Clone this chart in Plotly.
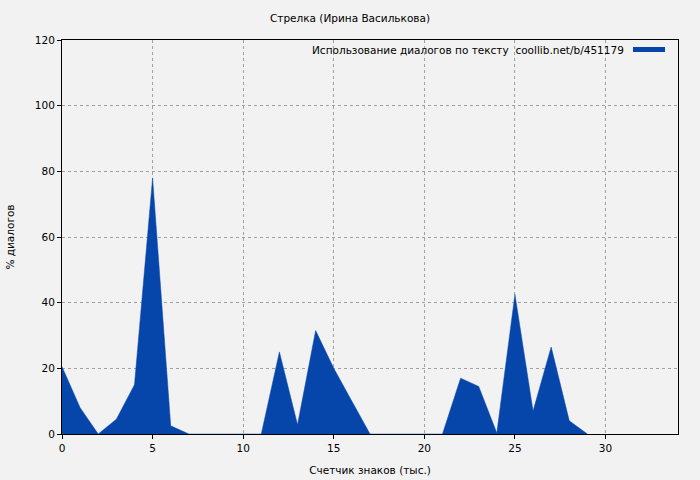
import plotly.graph_objects as go

x_vals = list(range(0, 30))
pct_dialogs = [20.5, 8, 0, 4.5, 15, 78, 2.5, 0, 0, 0,
               0, 0, 25, 2.8, 31.5, 20, 10, 0, 0, 0,
               0, 0, 17, 14.5, 0.3, 42.5, 7, 26.5, 4, 0]

title_text = "Стрелка (Ирина Василькова)"
legend_text = "Использование диалогов по тексту  coollib.net/b/451179"
x_title = "Счетчик знаков (тыс.)"
y_title = "% диалогов"
color = "#0646AB"
font_family = "DejaVu Sans, Verdana, sans-serif"
fs = 10.5

fig = go.Figure()
fig.add_trace(go.Scatter(
    x=x_vals, y=pct_dialogs, mode="lines", fill="tozeroy",
    line=dict(color=color, width=0.5), fillcolor=color,
    showlegend=False, hoverinfo="skip"))

fig.update_layout(
    width=700, height=480,
    paper_bgcolor="#f2f2f2", plot_bgcolor="#f2f2f2",
    margin=dict(l=62, r=22, t=40, b=46),
    font=dict(family=font_family, size=fs, color="#000"),
    title=dict(text=title_text, x=0.5, xanchor="center", y=1 - 18/480, yanchor="middle",
               font=dict(size=fs)),
    showlegend=False,
)
fig.update_xaxes(
    range=[0, 34], tickvals=[0, 5, 10, 15, 20, 25, 30], ticks="outside", ticklen=4,
    tickcolor="#000", showline=True, linecolor="#000", linewidth=1, mirror=True,
    showgrid=True, gridcolor="#a0a0a0", griddash="dot", gridwidth=1, zeroline=False,
    title=dict(text=x_title, standoff=14, font=dict(size=fs)), automargin=False,
    tickfont=dict(size=fs),
)
fig.update_yaxes(
    range=[0, 120], tickvals=[0, 20, 40, 60, 80, 100, 120], ticks="outside", ticklen=4,
    tickcolor="#000", showline=True, linecolor="#000", linewidth=1, mirror=True,
    showgrid=True, gridcolor="#a0a0a0", griddash="dot", gridwidth=1, zeroline=False,
    title=dict(text=y_title, standoff=18, font=dict(size=fs)), automargin=False,
    tickfont=dict(size=fs),
)

fig.add_annotation(
    text=legend_text, xref="paper", yref="paper",
    x=(626 - 62) / 616, y=1 - 10/394, xanchor="right", yanchor="middle",
    showarrow=False, font=dict(size=fs))
fig.add_shape(
    type="rect", xref="paper", yref="paper",
    x0=(633 - 62) / 616, x1=(665 - 62) / 616,
    y0=1 - 12/394, y1=1 - 7/394,
    fillcolor=color, line=dict(width=0))

fig.write_html("out.html", config={"displayModeBar": False},
               post_script="document.body.style.margin='0';document.body.style.background='#f2f2f2';")
